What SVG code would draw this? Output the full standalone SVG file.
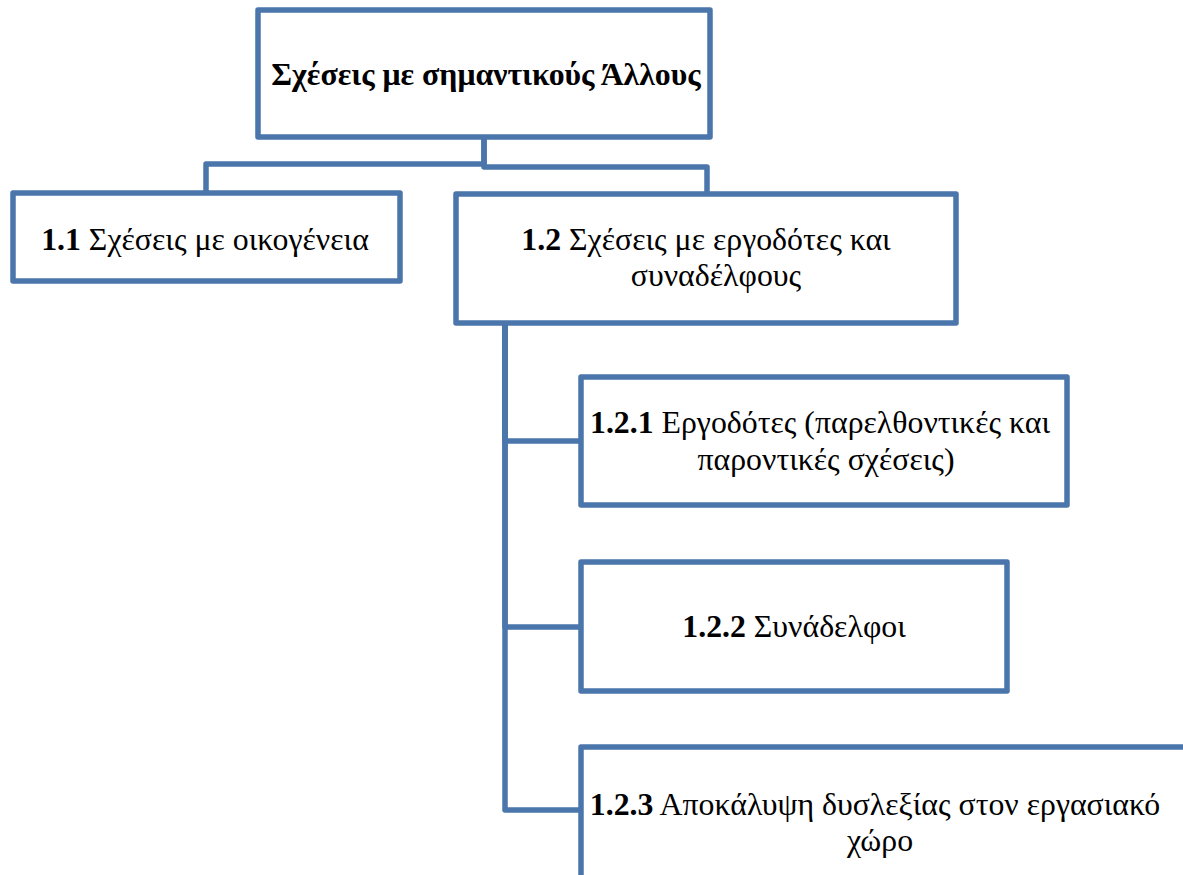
<svg xmlns="http://www.w3.org/2000/svg" width="1183" height="875" viewBox="0 0 1183 875">
<style>
.box{fill:#ffffff;stroke:#4a76ac;stroke-width:5.5;stroke-linejoin:round}
.con{fill:none;stroke:#4a76ac;stroke-width:5.5;stroke-linejoin:round}
.t{font-family:'Liberation Serif','DejaVu Serif',serif;font-size:31.8px;fill:#000;text-anchor:middle}
.b{font-weight:bold}
</style>
<rect width="1183" height="875" fill="#ffffff"/>
<g id="connectors">
<polyline class="con" points="484,137 484,164 206,164 206,193"/>
<polyline class="con" points="484,137 484,167 707,167 707,193"/>
<polyline class="con" points="505,323 505,441 581,441"/>
<polyline class="con" points="505,323 505,627 581,627"/>
<polyline class="con" points="505,323 505,810 581,810"/>
</g>
<g id="n0">
<rect class="box" x="258" y="10" width="452" height="127"/>
<text class="t b" x="486" y="85">Σχέσεις με σημαντικούς Άλλους</text>
</g>
<g id="n1">
<rect class="box" x="13" y="193" width="387" height="88"/>
<text class="t" x="205" y="250"><tspan class="b">1.1</tspan> Σχέσεις με οικογένεια</text>
</g>
<g id="n2">
<rect class="box" x="456" y="194" width="500" height="129"/>
<text class="t" x="706" y="250"><tspan class="b">1.2</tspan> Σχέσεις με εργοδότες και</text>
<text class="t" x="716" y="286">συναδέλφους</text>
</g>
<g id="n3">
<rect class="box" x="581" y="377" width="486" height="128"/>
<text class="t" x="820" y="433"><tspan class="b">1.2.1</tspan> Εργοδότες (παρελθοντικές και</text>
<text class="t" x="826" y="470">παροντικές σχέσεις)</text>
</g>
<g id="n4">
<rect class="box" x="581" y="562" width="426" height="129"/>
<text class="t" x="794" y="637"><tspan class="b">1.2.2</tspan> Συνάδελφοι</text>
</g>
<g id="n5">
<rect class="box" x="581" y="747" width="620" height="150"/>
<text class="t" x="875" y="815"><tspan class="b">1.2.3</tspan> Αποκάλυψη δυσλεξίας στον εργασιακό</text>
<text class="t" x="880" y="851">χώρο</text>
</g>
</svg>
